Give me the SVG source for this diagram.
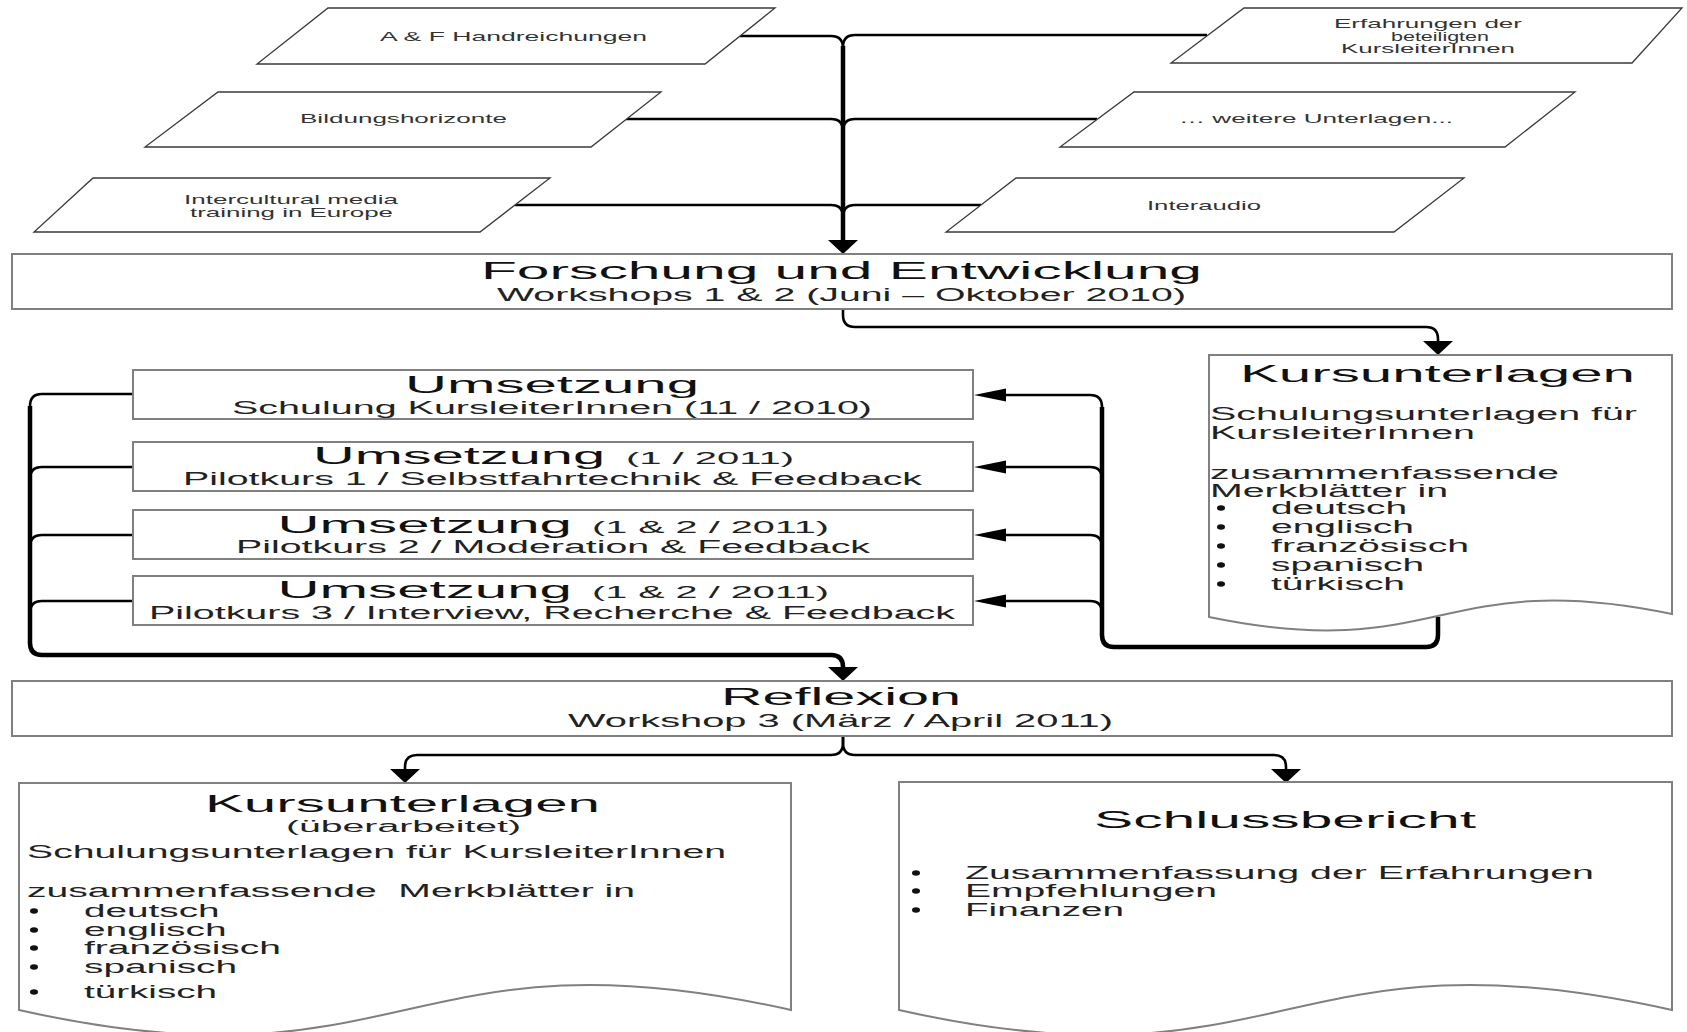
<svg xmlns="http://www.w3.org/2000/svg" xmlns:xlink="http://www.w3.org/1999/xlink" width="1687" height="1032" viewBox="0 0 1687 1032">
<style>
.bg{fill:#fff}
.box{fill:#fff;stroke:#808080;stroke-width:2}
.para{fill:#fff;stroke:#3a3a3a;stroke-width:1.3}
.conn{fill:none;stroke:#000;stroke-width:2.6}
.trunk{fill:none;stroke:#000;stroke-width:4.5}
.t{font-family:"Liberation Sans",Arial,Helvetica,sans-serif}
.h{font-size:23px;fill:#111}
.k{font-size:24px;fill:#111}
.s{font-size:18px;fill:#222}
.m{font-size:16px;fill:#222}
.b{font-size:18px;fill:#222}
.p{font-size:13.5px;fill:#333}
.dot{fill:#111}
</style>
<defs>
<path id="ad" d="M-15,-14 L15,-14 L0,0 Z" fill="#000"/>
<path id="al" d="M0,0 L32,-6.5 L32,6.5 Z" fill="#000"/>
</defs>
<rect class="bg" x="0" y="0" width="1687" height="1032"/>

<g id="connectors">
  <path class="conn" d="M740 36 H831 Q843 36 843 48 V241"/>
  <path class="conn" d="M626 119 H831 Q843 119 843 131 V241"/>
  <path class="conn" d="M515 205 H831 Q843 205 843 217 V241"/>
  <path class="conn" d="M1207 35 H855 Q843 35 843 47 V241"/>
  <path class="conn" d="M1097 119 H855 Q843 119 843 131 V241"/>
  <path class="conn" d="M981 205 H855 Q843 205 843 217 V241"/>
  <path class="trunk" d="M843 46 V241"/>
  <use xlink:href="#ad" href="#ad" transform="translate(843,254)"/>

  <path class="conn" d="M843 309 V315 Q843 327 855 327 H1426 Q1438 327 1438 339 V342"/>
  <use xlink:href="#ad" href="#ad" transform="translate(1438,355)"/>

  <path class="trunk" d="M1438 617 V635 Q1438 647 1426 647 H1114 Q1102 647 1102 635 V407"/>
  <path class="conn" d="M1102 407 Q1102 395 1090 395 H1005"/>
  <path class="conn" d="M1102 479 Q1102 467 1090 467 H1005"/>
  <path class="conn" d="M1102 547 Q1102 535 1090 535 H1005"/>
  <path class="conn" d="M1102 613 Q1102 601 1090 601 H1005"/>
  <use xlink:href="#al" href="#al" transform="translate(974,395)"/>
  <use xlink:href="#al" href="#al" transform="translate(974,467)"/>
  <use xlink:href="#al" href="#al" transform="translate(974,535)"/>
  <use xlink:href="#al" href="#al" transform="translate(974,601)"/>

  <path class="conn" d="M133 394 H42 Q30 394 30 406"/>
  <path class="conn" d="M133 467 H42 Q30 467 30 479"/>
  <path class="conn" d="M133 535 H42 Q30 535 30 547"/>
  <path class="conn" d="M133 601 H42 Q30 601 30 613"/>
  <path class="trunk" d="M30 406 V643 Q30 655 42 655 H831 Q843 655 843 667 V668"/>
  <use xlink:href="#ad" href="#ad" transform="translate(843,681)"/>

  <path class="conn" d="M843 736 V743 Q843 755 831 755 H417 Q405 755 405 767 V770"/>
  <path class="conn" d="M843 736 V743 Q843 755 855 755 H1274 Q1286 755 1286 767 V770"/>
  <use xlink:href="#ad" href="#ad" transform="translate(405,783)"/>
  <use xlink:href="#ad" href="#ad" transform="translate(1286,783)"/>
</g>

<g id="n-af">
  <polygon class="para" points="328,8 775,8 705,64 257,64"/>
  <text class="t p" x="380" y="41" textLength="267" lengthAdjust="spacingAndGlyphs">A &amp; F Handreichungen</text>
</g>
<g id="n-bildung">
  <polygon class="para" points="218,92 661,92 591,147 145,147"/>
  <text class="t p" x="300" y="123" textLength="207" lengthAdjust="spacingAndGlyphs">Bildungshorizonte</text>
</g>
<g id="n-intercultural">
  <polygon class="para" points="93,178 550,178 480,232 34,232"/>
  <text class="t p" x="184" y="204" textLength="214" lengthAdjust="spacingAndGlyphs">Intercultural media</text>
  <text class="t p" x="190" y="216.5" textLength="203" lengthAdjust="spacingAndGlyphs">training in Europe</text>
</g>
<g id="n-erfahrungen">
  <polygon class="para" points="1244,8 1682,8 1632,63 1171,63"/>
  <text class="t p" x="1334" y="28" textLength="188" lengthAdjust="spacingAndGlyphs">Erfahrungen der</text>
  <text class="t p" x="1391" y="40.5" textLength="98" lengthAdjust="spacingAndGlyphs">beteiligten</text>
  <text class="t p" x="1341" y="53" textLength="174" lengthAdjust="spacingAndGlyphs">KursleiterInnen</text>
</g>
<g id="n-weitere">
  <polygon class="para" points="1134,92 1575,92 1505,147 1060,147"/>
  <text class="t p" x="1179" y="123" textLength="274" lengthAdjust="spacingAndGlyphs">… weitere Unterlagen...</text>
</g>
<g id="n-interaudio">
  <polygon class="para" points="1016,178 1464,178 1394,232 946,232"/>
  <text class="t p" x="1147" y="210" textLength="114" lengthAdjust="spacingAndGlyphs">Interaudio</text>
</g>

<g id="n-forschung">
  <rect class="box" x="12" y="254" width="1660" height="55"/>
  <text class="t h" x="481" y="278.5" textLength="721" lengthAdjust="spacingAndGlyphs">Forschung und Entwicklung</text>
  <text class="t s" x="497" y="300.5" textLength="689" lengthAdjust="spacingAndGlyphs">Workshops 1 &amp; 2 (Juni – Oktober 2010)</text>
</g>

<g id="n-kurs1">
  <path class="box" d="M1209 355 H1672 V614 C1440 566 1440 665 1209 617 Z"/>
  <text class="t k" x="1240" y="382" textLength="395" lengthAdjust="spacingAndGlyphs">Kursunterlagen</text>
  <text class="t b" x="1210" y="420" textLength="427" lengthAdjust="spacingAndGlyphs">Schulungsunterlagen für</text>
  <text class="t b" x="1210" y="439" textLength="265" lengthAdjust="spacingAndGlyphs">KursleiterInnen</text>
  <text class="t b" x="1210" y="479" textLength="349" lengthAdjust="spacingAndGlyphs">zusammenfassende</text>
  <text class="t b" x="1210" y="497" textLength="238" lengthAdjust="spacingAndGlyphs">Merkblätter in</text>
  <ellipse class="dot" cx="1221" cy="508" rx="4" ry="2.8"/>
  <ellipse class="dot" cx="1221" cy="527" rx="4" ry="2.8"/>
  <ellipse class="dot" cx="1221" cy="546" rx="4" ry="2.8"/>
  <ellipse class="dot" cx="1221" cy="565" rx="4" ry="2.8"/>
  <ellipse class="dot" cx="1221" cy="584" rx="4" ry="2.8"/>
  <text class="t b" x="1271" y="514" textLength="136" lengthAdjust="spacingAndGlyphs">deutsch</text>
  <text class="t b" x="1271" y="533" textLength="143" lengthAdjust="spacingAndGlyphs">englisch</text>
  <text class="t b" x="1271" y="552" textLength="198" lengthAdjust="spacingAndGlyphs">französisch</text>
  <text class="t b" x="1271" y="571" textLength="153" lengthAdjust="spacingAndGlyphs">spanisch</text>
  <text class="t b" x="1271" y="590" textLength="134" lengthAdjust="spacingAndGlyphs">türkisch</text>
</g>

<g id="n-ums1">
  <rect class="box" x="133" y="370" width="840" height="49"/>
  <text class="t h" x="405" y="393" textLength="294" lengthAdjust="spacingAndGlyphs">Umsetzung</text>
  <text class="t s" x="232" y="414" textLength="640" lengthAdjust="spacingAndGlyphs">Schulung KursleiterInnen (11 / 2010)</text>
</g>
<g id="n-ums2">
  <rect class="box" x="133" y="442" width="840" height="49"/>
  <text class="t h" x="313" y="464" textLength="292" lengthAdjust="spacingAndGlyphs">Umsetzung</text>
  <text class="t m" x="626" y="464" textLength="168" lengthAdjust="spacingAndGlyphs">(1 / 2011)</text>
  <text class="t s" x="183" y="485" textLength="739" lengthAdjust="spacingAndGlyphs">Pilotkurs 1 / Selbstfahrtechnik &amp; Feedback</text>
</g>
<g id="n-ums3">
  <rect class="box" x="133" y="510" width="840" height="49"/>
  <text class="t h" x="277.5" y="533" textLength="294.5" lengthAdjust="spacingAndGlyphs">Umsetzung</text>
  <text class="t m" x="592" y="533" textLength="237" lengthAdjust="spacingAndGlyphs">(1 &amp; 2 / 2011)</text>
  <text class="t s" x="236" y="553" textLength="634" lengthAdjust="spacingAndGlyphs">Pilotkurs 2 / Moderation &amp; Feedback</text>
</g>
<g id="n-ums4">
  <rect class="box" x="133" y="576" width="840" height="49"/>
  <text class="t h" x="277.5" y="598" textLength="294.5" lengthAdjust="spacingAndGlyphs">Umsetzung</text>
  <text class="t m" x="592" y="598" textLength="237" lengthAdjust="spacingAndGlyphs">(1 &amp; 2 / 2011)</text>
  <text class="t s" x="149" y="619" textLength="806" lengthAdjust="spacingAndGlyphs">Pilotkurs 3 / Interview, Recherche &amp; Feedback</text>
</g>

<g id="n-reflexion">
  <rect class="box" x="12" y="681" width="1660" height="55"/>
  <text class="t h" x="721" y="705" textLength="240" lengthAdjust="spacingAndGlyphs">Reflexion</text>
  <text class="t s" x="568" y="727" textLength="545" lengthAdjust="spacingAndGlyphs">Workshop 3 (März / April 2011)</text>
</g>

<g id="n-kurs2">
  <path class="box" d="M19 783 H791 V1010 C405 923 405 1097 19 1010 Z"/>
  <text class="t k" x="205" y="812" textLength="395" lengthAdjust="spacingAndGlyphs">Kursunterlagen</text>
  <text class="t m" x="286" y="832" textLength="235" lengthAdjust="spacingAndGlyphs">(überarbeitet)</text>
  <text class="t b" x="27" y="858" textLength="699" lengthAdjust="spacingAndGlyphs">Schulungsunterlagen für KursleiterInnen</text>
  <text class="t b" x="27" y="897" textLength="608" lengthAdjust="spacingAndGlyphs" xml:space="preserve">zusammenfassende  Merkblätter in</text>
  <ellipse class="dot" cx="34" cy="911" rx="4" ry="2.8"/>
  <ellipse class="dot" cx="34" cy="930" rx="4" ry="2.8"/>
  <ellipse class="dot" cx="34" cy="948" rx="4" ry="2.8"/>
  <ellipse class="dot" cx="34" cy="967" rx="4" ry="2.8"/>
  <ellipse class="dot" cx="34" cy="992" rx="4" ry="2.8"/>
  <text class="t b" x="84" y="917" textLength="135.5" lengthAdjust="spacingAndGlyphs">deutsch</text>
  <text class="t b" x="84" y="936" textLength="142.5" lengthAdjust="spacingAndGlyphs">englisch</text>
  <text class="t b" x="84" y="954" textLength="197" lengthAdjust="spacingAndGlyphs">französisch</text>
  <text class="t b" x="84" y="973" textLength="153" lengthAdjust="spacingAndGlyphs">spanisch</text>
  <text class="t b" x="84" y="998" textLength="133" lengthAdjust="spacingAndGlyphs">türkisch</text>
</g>

<g id="n-schluss">
  <path class="box" d="M899 782 H1672 V1010 C1285 923 1285 1097 899 1010 Z"/>
  <text class="t k" x="1094" y="828" textLength="382" lengthAdjust="spacingAndGlyphs">Schlussbericht</text>
  <ellipse class="dot" cx="916" cy="873" rx="4" ry="2.8"/>
  <ellipse class="dot" cx="916" cy="891" rx="4" ry="2.8"/>
  <ellipse class="dot" cx="916" cy="910" rx="4" ry="2.8"/>
  <text class="t b" x="965" y="879" textLength="629" lengthAdjust="spacingAndGlyphs">Zusammenfassung der Erfahrungen</text>
  <text class="t b" x="965" y="897" textLength="252" lengthAdjust="spacingAndGlyphs">Empfehlungen</text>
  <text class="t b" x="965" y="916" textLength="159" lengthAdjust="spacingAndGlyphs">Finanzen</text>
</g>
</svg>
